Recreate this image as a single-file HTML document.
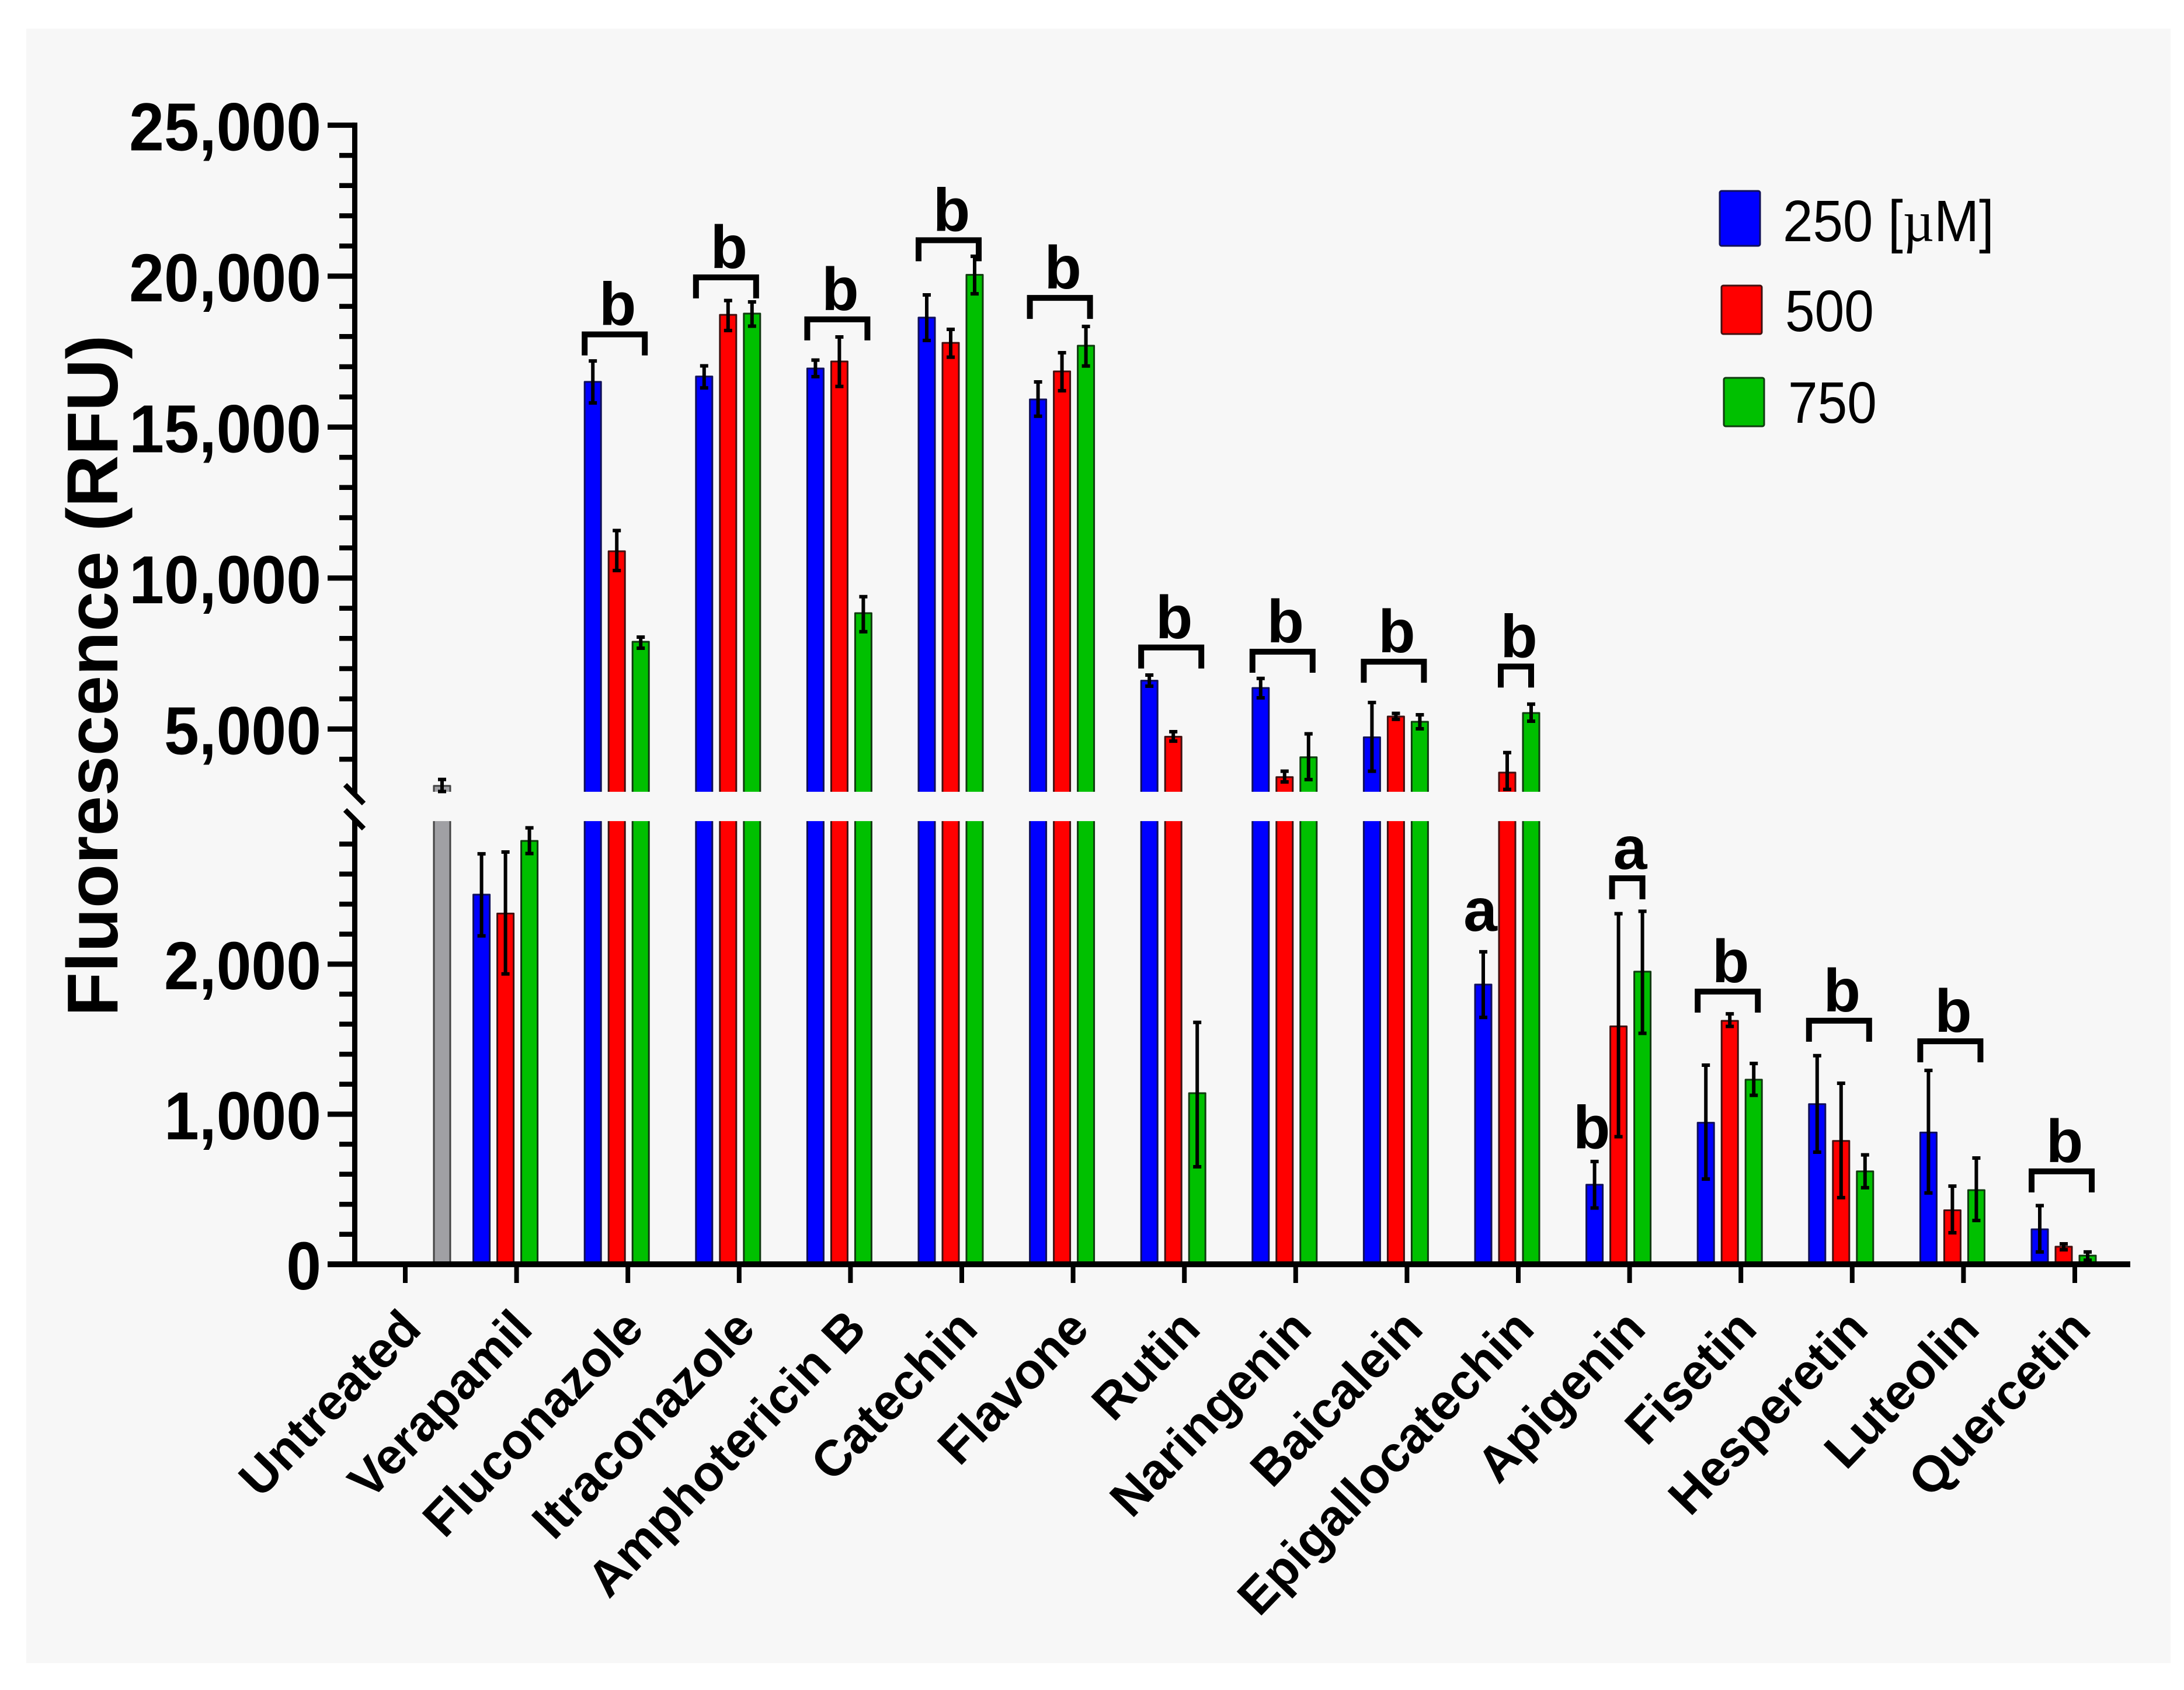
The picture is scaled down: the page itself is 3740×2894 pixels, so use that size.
<!DOCTYPE html>
<html lang="en">
<head>
<meta charset="utf-8">
<title>Fluorescence by treatment and concentration</title>
<style>
html,body{margin:0;padding:0;background:#fff;}
svg{display:block;}
text{font-family:"Liberation Sans",Arial,sans-serif;fill:#000;}
</style>
</head>
<body>
<svg id="chart" xmlns="http://www.w3.org/2000/svg" width="3740" height="2894" viewBox="0 0 3740 2894">
  <rect x="45" y="49" width="3672" height="2799" fill="#f7f7f7"/>
  <text transform="translate(201,1157) rotate(-90)" text-anchor="middle" font-size="123.5" font-weight="700">Fluorescence (RFU)</text>
  <g id="marks"></g>
  <g>
    <g>
      <rect x="2945" y="327" width="69" height="94" rx="3" fill="#0000ff" stroke="#10105a" stroke-width="3"/>
      <text transform="translate(3053,413) scale(.925,1)" font-size="100">250 [<tspan font-family="'Liberation Serif',serif">µ</tspan>M]</text>
    </g>
    <g>
      <rect x="2948" y="489" width="69" height="83" rx="3" fill="#ff0000" stroke="#401010" stroke-width="3"/>
      <text transform="translate(3057,567) scale(.91,1)" font-size="100">500</text>
    </g>
    <g>
      <rect x="2952" y="647" width="69" height="83" rx="3" fill="#00c000" stroke="#103a10" stroke-width="3"/>
      <text transform="translate(3062,724) scale(.91,1)" font-size="100">750</text>
    </g>
  </g>
</svg>
<script>
// ---- data ----
const categories = ["Untreated","Verapamil","Fluconazole","Itraconazole","Amphotericin B","Catechin","Flavone","Rutin","Naringenin","Baicalein","Epigallocatechin","Apigenin","Fisetin","Hesperetin","Luteolin","Quercetin"];

const controlValue = [3118];
const controlErrTop = [3329];
const controlErrBottom = [2930];

const values250 = [null,2463,16499,16675,16942,18627,15917,6600,6360,4724,1864,530,943,1067,878,233];
const errTop250 = [null,2735,17190,17029,17219,19380,16497,6787,6677,5877,2082,685,1327,1390,1292,391];
const errBot250 = [null,2188,15800,16300,16671,17870,15361,6420,6033,3602,1645,375,568,747,475,82];

const values500 = [null,2337,10888,18720,17174,17790,16845,4743,3408,5414,3557,1585,1622,822,360,117];
const errTop500 = [null,2747,11574,19193,17986,18238,17464,4910,3602,5517,4220,2336,1669,1206,521,136];
const errBot500 = [null,1935,10250,18200,16348,17316,16205,4600,3247,5323,3000,850,1585,444,210,97];

const values750 = [null,2821,7890,18760,8838,20045,17696,1140,4066,5240,5530,1950,1230,619,494,58];
const errTop750 = [null,2908,8044,19147,9385,20657,18335,1612,4840,5472,5826,2352,1338,729,708,82];
const errBot750 = [null,2737,7677,18344,8224,19416,17025,650,3325,5007,5260,1539,1126,510,292,27];

const seriesNames = ["250","500","750"];
const seriesColors = ["#0000ff","#ff0000","#00c000"];
const seriesEdges = ["#10105a","#401010","#103a10"];

const upperMajorTicks = [5000,10000,15000,20000,25000];
const upperMajorLabels = ["5,000","10,000","15,000","20,000","25,000"];
const lowerMajorTicks = [0,1000,2000];
const lowerMajorLabels = ["0","1,000","2,000"];

// bracket annotations: category, first slot, last slot, letter, level in data units
const bracketCats = [2,3,4,5,6,7,8,9,10,11,12,13,14,15];
const bracketFirst = [0,0,0,0,0,0,0,0,1,1,0,0,0,0];
const bracketLast = [2,2,2,2,2,2,2,2,2,2,2,2,2,2];
const bracketLetters = ["b","b","b","b","b","b","b","b","b","a","b","b","b","b"];
const bracketLevels = [18071,19959,18570,21190,19280,7700,7560,7230,7070,2572,1817,1623,1486,619];

// free letters with no bracket: category, letter, level in data units
const freeLetterCats = [10,11];
const freeLetterText = ["a","b"];
const freeLetterLevels = [2222,772];

// ---- axis functions ----
const plot = { zeroY:2165, lowerPx:0.257, upperRefY:1248.4, upperRefV:5000, upperPx:0.0517, cutUpperV:2920, cutLowerV:2953, splitV:2953, axisX:607.5, barW:28 };
function lowerY(v){ return plot.zeroY - v*plot.lowerPx; }
function upperY(v){ return Math.min(plot.upperRefY - (v-plot.upperRefV)*plot.upperPx, upperY0()); }
function upperY0(){ return plot.upperRefY - (plot.cutUpperV-plot.upperRefV)*plot.upperPx; }
function levelY(v){ return v>plot.splitV ? upperY(v) : lowerY(v); }
function catX(i){ return 694 + i*190.6; }
function slotX(i,s){ return catX(i) - 60 + 41*s; }

const NS = "http://www.w3.org/2000/svg";
const root = document.getElementById("marks");
function mk(tag, attrs, parent){
  const el = document.createElementNS(NS, tag);
  for (const k in attrs) el.setAttribute(k, attrs[k]);
  (parent||root).appendChild(el);
  return el;
}

// ---- bars ----
function drawBar(i, s, v, eTop, eBot, fill, edge, label){
  const x = slotX(i,s), L = x - plot.barW/2, R = x + plot.barW/2;
  const style = {fill:fill, stroke:edge, "stroke-width":3, "stroke-linejoin":"round"};
  if (v > plot.splitV){
    const up = mk("path", Object.assign({d:`M${L} ${upperY0()}V${upperY(v)}H${R}V${upperY0()}`}, style));
    
    
    const lowFill = mk("rect", {x:L, y:lowerY(plot.cutLowerV), width:plot.barW, height:plot.zeroY-lowerY(plot.cutLowerV), fill:fill});
    
    
    const low = mk("path", Object.assign({d:`M${L} ${plot.zeroY}V${lowerY(plot.cutLowerV)}M${R} ${lowerY(plot.cutLowerV)}V${plot.zeroY}`, "fill":"none"}, {stroke:edge,"stroke-width":3}));
    
    
  } else {
    const bar = mk("path", Object.assign({d:`M${L} ${plot.zeroY}V${lowerY(v)}H${R}V${plot.zeroY}`}, style));
    
    
  }
}
function drawError(i, s, v, eTop, eBot, label){
  const x = slotX(i,s);
  const upper = v > plot.splitV;
  const yT = upper ? upperY(eTop) : lowerY(eTop);
  const yB = upper ? upperY(eBot) : lowerY(eBot);
  const atCut = upper && yB >= upperY0();
  let d = `M${x} ${yT}V${yB}M${x-7} ${yT}H${x+7}`;
  if (!atCut) d += `M${x-7} ${yB}H${x+7}`;
  const err = mk("path", {d:d, fill:"none", stroke:"#000", "stroke-width":6});
  
  
}

const allValues = [values250, values500, values750];
const allTops = [errTop250, errTop500, errTop750];
const allBots = [errBot250, errBot500, errBot750];

drawBar(0, 3, controlValue[0], controlErrTop[0], controlErrBottom[0], "#a0a0a4", "#444", "untreated");
categories.forEach(function(cat, i){
  allValues.forEach(function(vals, s){
    if (vals[i] === null) return;
    drawBar(i, s, vals[i], allTops[s][i], allBots[s][i], seriesColors[s], seriesEdges[s], cat.toLowerCase().replace(/ /g,"-") + "-" + seriesNames[s]);
  });
});
drawError(0, 3, controlValue[0], controlErrTop[0], controlErrBottom[0], "untreated");
categories.forEach(function(cat, i){
  allValues.forEach(function(vals, s){
    if (vals[i] === null) return;
    drawError(i, s, vals[i], allTops[s][i], allBots[s][i], cat.toLowerCase().replace(/ /g,"-") + "-" + seriesNames[s]);
  });
});

// ---- y axis ----
const upperAxis = mk("line", {x1:plot.axisX, x2:plot.axisX, y1:upperY(25000)-4.5, y2:1360, stroke:"#000", "stroke-width":9});


const lowerAxis = mk("line", {x1:plot.axisX, x2:plot.axisX, y1:1403, y2:plot.zeroY, stroke:"#000", "stroke-width":9});


const breakMarks = mk("path", {d:"M591 1344L623 1376M591 1387L623 1419", fill:"none", stroke:"#000", "stroke-width":9});



for (let v = 4000; v < 25000; v += 1000){
  if (v % 5000 === 0) continue;
  const t = mk("line", {x1:581, x2:plot.axisX, y1:upperY(v), y2:upperY(v), stroke:"#000", "stroke-width":8.5});
  
  
}
for (let v = 200; v < 2900; v += 200){
  if (v % 1000 === 0) continue;
  const t = mk("line", {x1:581, x2:plot.axisX, y1:lowerY(v), y2:lowerY(v), stroke:"#000", "stroke-width":8.5});
  
  
}
function majorTick(y, label){
  const t = mk("line", {x1:561, x2:plot.axisX, y1:y, y2:y, stroke:"#000", "stroke-width":9});
  
  
  const txt = mk("text", {transform:`translate(550,${y+43}) scale(.927,1)`, "text-anchor":"end", "font-size":116, "font-weight":700});
  txt.textContent = label;
  
  
}
upperMajorTicks.forEach(function(v, k){ majorTick(upperY(v), upperMajorLabels[k]); });
lowerMajorTicks.forEach(function(v, k){ majorTick(lowerY(v), lowerMajorLabels[k]); });

// ---- x axis ----
const xAxis = mk("line", {x1:561, x2:3648, y1:plot.zeroY, y2:plot.zeroY, stroke:"#000", "stroke-width":10});


categories.forEach(function(cat, i){
  const t = mk("line", {x1:catX(i), x2:catX(i), y1:plot.zeroY, y2:2197, stroke:"#000", "stroke-width":8});
  
  
  const lab = mk("text", {transform:`translate(${catX(i)+31},2279) rotate(-46)`, "text-anchor":"end", "font-size":86, "font-weight":700});
  lab.textContent = cat;
  
  
});

// ---- significance annotations ----
bracketCats.forEach(function(c, k){
  const full = bracketFirst[k] === 0;
  const mid = (slotX(c, bracketFirst[k]) + slotX(c, bracketLast[k]))/2 + (full ? -3.5 : -5.5);
  const half = full ? 51.5 : 26;
  const xL = mid - half, xR = mid + half;
  const y = levelY(bracketLevels[k]);
  const br = mk("path", {d:`M${xL} ${y+36}V${y}H${xR}V${y+36}`, fill:"none", stroke:"#000", "stroke-width":10});
  
  
  const lt = mk("text", {x:mid+5, y:y-16, "text-anchor":"middle", "font-size":104, "font-weight":700});
  lt.textContent = bracketLetters[k];
  
  
});
freeLetterCats.forEach(function(c, k){
  const lt = mk("text", {x:slotX(c,0)-5, y:levelY(freeLetterLevels[k]), "text-anchor":"middle", "font-size":104, "font-weight":700});
  lt.textContent = freeLetterText[k];
  
  
});
</script>
</body>
</html>
